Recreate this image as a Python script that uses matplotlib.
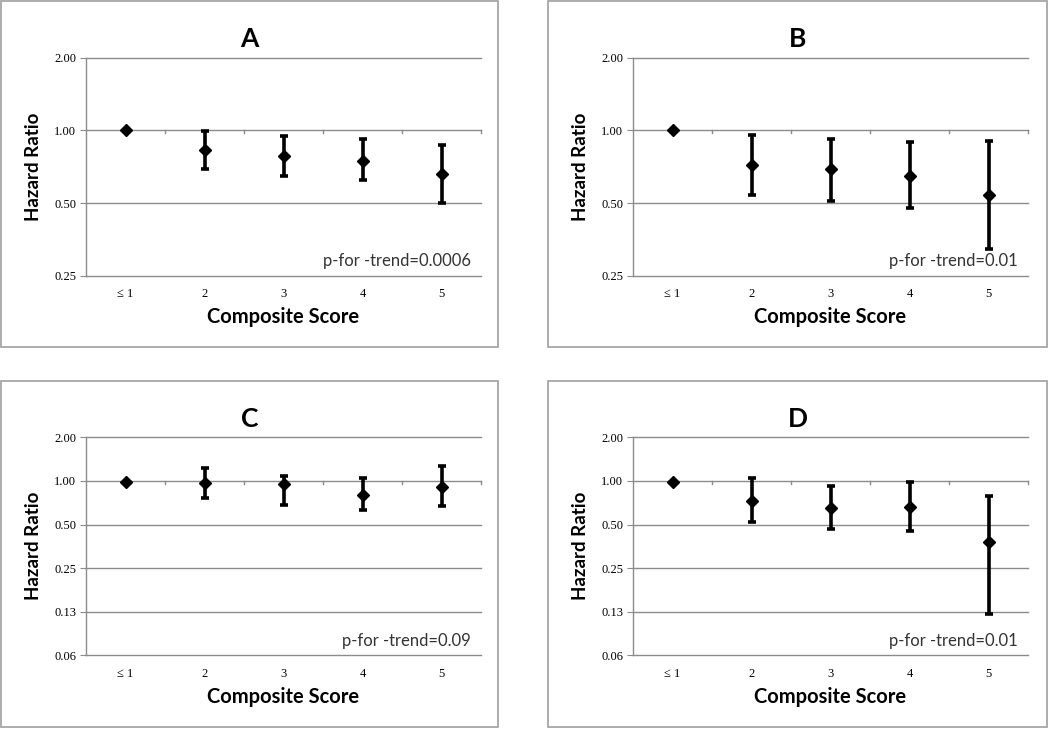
#Four panel hazard ratio plot (log2 scale) with 95% CI error bars
import numpy as np
import matplotlib.pyplot as plt
from matplotlib.patches import Rectangle

#categories of the composite score
categories = ['\u2264 1', '2', '3', '4', '5']

#panel A
hr_a = [1.00, 0.83, 0.785, 0.75, 0.66]
lo_a = [1.00, 0.69, 0.65, 0.62, 0.50]
hi_a = [1.00, 0.99, 0.95, 0.92, 0.87]

#panel B
hr_b = [1.00, 0.716, 0.689, 0.649, 0.539]
lo_b = [1.00, 0.539, 0.509, 0.479, 0.321]
hi_b = [1.00, 0.957, 0.923, 0.897, 0.906]

#panel C
hr_c = [0.99, 0.964, 0.948, 0.805, 0.914]
lo_c = [0.99, 0.764, 0.68, 0.631, 0.669]
hi_c = [0.99, 1.236, 1.083, 1.043, 1.269]

#panel D
hr_d = [0.99, 0.732, 0.648, 0.662, 0.38]
lo_d = [0.99, 0.519, 0.462, 0.452, 0.121]
hi_d = [0.99, 1.043, 0.929, 0.979, 0.792]

ticks_ab = [0.25, 0.5, 1.0, 2.0]
ticklabels_ab = ['0.25', '0.50', '1.00', '2.00']
ticks_cd = [0.0625, 0.125, 0.25, 0.5, 1.0, 2.0]
ticklabels_cd = ['0.06', '0.13', '0.25', '0.50', '1.00', '2.00']

ptexts = ['p-for -trend=0.0006', 'p-for -trend=0.01', 'p-for -trend=0.09', 'p-for -trend=0.01']

W, H = 1050, 729
fig = plt.figure(figsize=(W / 100, H / 100), dpi=100)
fig.patch.set_facecolor('white')

grid_col = '#8c8c8c'
sans = ['Lato', 'DejaVu Sans']
serif = ['Liberation Serif', 'DejaVu Serif']

# pixel boxes: (chart box left, top, right, bottom), (plot left, top, right, bottom)
panels = [
    ('A', hr_a, lo_a, hi_a, ticks_ab, ticklabels_ab, (1, 1, 498, 347), (86, 57.7, 481, 275.7)),
    ('B', hr_b, lo_b, hi_b, ticks_ab, ticklabels_ab, (548, 1, 1047, 347), (633, 57.7, 1028, 275.7)),
    ('C', hr_c, lo_c, hi_c, ticks_cd, ticklabels_cd, (1, 381, 498, 727), (86, 437.3, 481, 655.3)),
    ('D', hr_d, lo_d, hi_d, ticks_cd, ticklabels_cd, (548, 381, 1047, 727), (633, 437.3, 1028, 655.3)),
]

for i, (name, hr, lo, hi, yt, ytl, box, plot) in enumerate(panels):
    # outer chart border
    bl, bt, br, bb = box
    fig.patches.append(Rectangle((bl / W, 1 - bb / H), (br - bl) / W, (bb - bt) / H,
                                 transform=fig.transFigure, fill=False,
                                 edgecolor='#a6a6a6', linewidth=1.3))

    pl, pt, pr, pb = plot
    ax = fig.add_axes([pl / W, 1 - pb / H, (pr - pl) / W, (pb - pt) / H])
    ax.set_yscale('log', base=2)
    ax.set_ylim(yt[0], yt[-1])
    ax.set_xlim(0.5, 5.5)

    x = np.arange(1, 6)
    hr = np.array(hr)
    yerr = np.array([hr - np.array(lo), np.array(hi) - hr])
    ax.errorbar(x, hr, yerr=yerr, fmt='D', color='black', ms=6,
                elinewidth=2.6, capsize=3, capthick=2.6, zorder=3)

    # gridlines
    for v in yt:
        ax.axhline(v, color=grid_col, linewidth=1, zorder=1, clip_on=False)
    # horizontal axis crosses at 1.00, small tick marks between categories
    tick_len = 2 ** (-3.0 / (pb - pt) * (len(yt) - 1))
    for xb in [1.5, 2.5, 3.5, 4.5, 5.5]:
        ax.plot([xb, xb], [1.0, tick_len], color=grid_col, linewidth=1,
                zorder=1, clip_on=False)

    for s in ['top', 'right', 'bottom']:
        ax.spines[s].set_visible(False)
    ax.spines['left'].set_color(grid_col)
    ax.spines['left'].set_linewidth(1)

    ax.set_yticks(yt)
    ax.set_yticklabels(ytl, fontfamily=serif, fontsize=9)
    ax.yaxis.set_minor_locator(plt.NullLocator())
    ax.tick_params(axis='y', length=4, color=grid_col, pad=3)
    ax.set_xticks(x)
    ax.set_xticklabels(categories, fontfamily=serif, fontsize=9)
    ax.tick_params(axis='x', length=0, pad=9)

    ax.set_ylabel('Hazard Ratio', fontfamily=sans, fontweight='bold', fontsize=13.5, labelpad=9)
    ax.set_xlabel('Composite Score', fontfamily=sans, fontweight='bold', fontsize=14.5, labelpad=5)

    # panel letter centred on the chart box
    fig.text((bl + br) / 2 / W, 1 - (bt + 38) / H, name, ha='center', va='center',
             fontfamily=sans, fontweight='bold', fontsize=19)

    ax.text(0.975, 0.03, ptexts[i], transform=ax.transAxes, ha='right', va='bottom',
            fontfamily=sans, fontsize=12, color='#333333')

plt.savefig('out.png', dpi=100)
